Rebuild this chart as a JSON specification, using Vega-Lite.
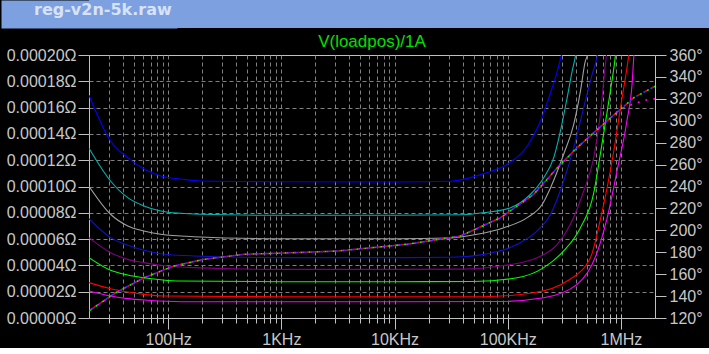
{
  "$schema": "https://vega.github.io/schema/vega-lite/v6.json",
  "background": "#000000",
  "padding": 0,
  "spacing": 4,
  "datasets": {
    "mag": [
      {"s":"step1","f":20,"v":0.0001694},{"s":"step1","f":31,"v":0.0001346},{"s":"step1","f":44,"v":0.0001219},{"s":"step1","f":61,"v":0.0001133},{"s":"step1","f":86,"v":0.000108},{"s":"step1","f":129,"v":0.0001057},{"s":"step1","f":194,"v":0.0001042},{"s":"step1","f":1000,"v":0.0001036},{"s":"step1","f":10000,"v":0.0001034},{"s":"step1","f":31000,"v":0.000104},{"s":"step1","f":61500,"v":0.0001098},{"s":"step1","f":99000,"v":0.0001169},{"s":"step1","f":149000,"v":0.0001308},{"s":"step1","f":195000,"v":0.0001498},{"s":"step1","f":239000,"v":0.0001713},{"s":"step1","f":274000,"v":0.0001878},{"s":"step1","f":297000,"v":0.0001993},{"s":"step1","f":330000,"v":0.00022},
      {"s":"step2","f":20,"v":0.0001291},{"s":"step2","f":31,"v":0.0001042},{"s":"step2","f":44,"v":0.0000915},{"s":"step2","f":61,"v":0.0000852},{"s":"step2","f":86,"v":0.0000814},{"s":"step2","f":129,"v":0.0000796},{"s":"step2","f":194,"v":0.0000789},{"s":"step2","f":1000,"v":0.0000781},{"s":"step2","f":10000,"v":0.0000781},{"s":"step2","f":40000,"v":0.0000785},{"s":"step2","f":61500,"v":0.0000801},{"s":"step2","f":106000,"v":0.0000839},{"s":"step2","f":159000,"v":0.0000941},{"s":"step2","f":208000,"v":0.0001067},{"s":"step2","f":255000,"v":0.0001219},{"s":"step2","f":292000,"v":0.0001422},{"s":"step2","f":335000,"v":0.0001675},{"s":"step2","f":371000,"v":0.0001878},{"s":"step2","f":397000,"v":0.0001993},{"s":"step2","f":430000,"v":0.00022},
      {"s":"step3","f":20,"v":0.0001002},{"s":"step3","f":31,"v":0.0000789},{"s":"step3","f":44,"v":0.00007},{"s":"step3","f":61,"v":0.0000662},{"s":"step3","f":86,"v":0.0000637},{"s":"step3","f":169,"v":0.0000618},{"s":"step3","f":1000,"v":0.0000603},{"s":"step3","f":10000,"v":0.0000603},{"s":"step3","f":30000,"v":0.0000608},{"s":"step3","f":53800,"v":0.0000637},{"s":"step3","f":92500,"v":0.0000687},{"s":"step3","f":150000,"v":0.0000765},{"s":"step3","f":202000,"v":0.0000865},{"s":"step3","f":239000,"v":0.0000991},{"s":"step3","f":312000,"v":0.0001245},{"s":"step3","f":383000,"v":0.0001473},{"s":"step3","f":439000,"v":0.0001726},{"s":"step3","f":485000,"v":0.0001954},{"s":"step3","f":503000,"v":0.0001993},{"s":"step3","f":540000,"v":0.00022},
      {"s":"step4","f":20,"v":0.0000755},{"s":"step4","f":31,"v":0.0000611},{"s":"step4","f":44,"v":0.0000553},{"s":"step4","f":61,"v":0.0000515},{"s":"step4","f":86,"v":0.0000489},{"s":"step4","f":169,"v":0.0000472},{"s":"step4","f":1000,"v":0.0000459},{"s":"step4","f":10000,"v":0.0000459},{"s":"step4","f":30000,"v":0.0000462},{"s":"step4","f":61500,"v":0.0000484},{"s":"step4","f":121000,"v":0.000056},{"s":"step4","f":182000,"v":0.0000662},{"s":"step4","f":239000,"v":0.0000789},{"s":"step4","f":312000,"v":0.0001042},{"s":"step4","f":383000,"v":0.0001295},{"s":"step4","f":469000,"v":0.0001599},{"s":"step4","f":557000,"v":0.0001853},{"s":"step4","f":617000,"v":0.0001993},{"s":"step4","f":660000,"v":0.00022},
      {"s":"step5","f":20,"v":0.0000611},{"s":"step5","f":31,"v":0.0000497},{"s":"step5","f":44,"v":0.0000446},{"s":"step5","f":61,"v":0.0000421},{"s":"step5","f":86,"v":0.0000401},{"s":"step5","f":169,"v":0.0000383},{"s":"step5","f":1000,"v":0.000037},{"s":"step5","f":10000,"v":0.000037},{"s":"step5","f":40000,"v":0.0000372},{"s":"step5","f":86300,"v":0.0000395},{"s":"step5","f":182000,"v":0.0000459},{"s":"step5","f":274000,"v":0.000056},{"s":"step5","f":358000,"v":0.0000713},{"s":"step5","f":469000,"v":0.0000966},{"s":"step5","f":575000,"v":0.0001219},{"s":"step5","f":659000,"v":0.0001549},{"s":"step5","f":729000,"v":0.0001929},{"s":"step5","f":744000,"v":0.0001993},{"s":"step5","f":790000,"v":0.00022},
      {"s":"step6","f":20,"v":0.0000459},{"s":"step6","f":31,"v":0.0000363},{"s":"step6","f":44,"v":0.0000327},{"s":"step6","f":61,"v":0.0000306},{"s":"step6","f":86,"v":0.0000291},{"s":"step6","f":125,"v":0.0000281},{"s":"step6","f":1000,"v":0.0000276},{"s":"step6","f":10000,"v":0.0000276},{"s":"step6","f":50000,"v":0.0000278},{"s":"step6","f":121000,"v":0.0000306},{"s":"step6","f":208000,"v":0.0000383},{"s":"step6","f":312000,"v":0.000051},{"s":"step6","f":439000,"v":0.0000687},{"s":"step6","f":575000,"v":0.000095},{"s":"step6","f":659000,"v":0.000125},{"s":"step6","f":750000,"v":0.000155},{"s":"step6","f":807000,"v":0.0001726},{"s":"step6","f":893000,"v":0.0001993},{"s":"step6","f":940000,"v":0.00022},
      {"s":"step7","f":20,"v":0.0000269},{"s":"step7","f":31,"v":0.0000223},{"s":"step7","f":44,"v":0.0000198},{"s":"step7","f":61,"v":0.000018},{"s":"step7","f":90,"v":0.0000167},{"s":"step7","f":1000,"v":0.0000162},{"s":"step7","f":10000,"v":0.0000162},{"s":"step7","f":60000,"v":0.0000162},{"s":"step7","f":170000,"v":0.0000192},{"s":"step7","f":335000,"v":0.0000281},{"s":"step7","f":538000,"v":0.0000459},{"s":"step7","f":659000,"v":0.000075},{"s":"step7","f":865000,"v":0.000127},{"s":"step7","f":1000000,"v":0.000162},{"s":"step7","f":1170000,"v":0.0001993},{"s":"step7","f":1250000,"v":0.00022},
      {"s":"step8","f":20,"v":0.0000205},{"s":"step8","f":31,"v":0.0000167},{"s":"step8","f":44,"v":0.0000147},{"s":"step8","f":66,"v":0.0000135},{"s":"step8","f":129,"v":0.0000124},{"s":"step8","f":1000,"v":0.0000124},{"s":"step8","f":10000,"v":0.0000124},{"s":"step8","f":80000,"v":0.0000125},{"s":"step8","f":208000,"v":0.0000154},{"s":"step8","f":410000,"v":0.0000256},{"s":"step8","f":617000,"v":0.00005},{"s":"step8","f":750000,"v":0.000075},{"s":"step8","f":925000,"v":0.000112},{"s":"step8","f":1130000,"v":0.00015},{"s":"step8","f":1260000,"v":0.00018},{"s":"step8","f":1300000,"v":0.0001993},{"s":"step8","f":1360000,"v":0.00022}
    ],
    "phase": [
      {"s":"step6","f":20,"d":126.5},{"s":"step6","f":34.5,"d":143.1},{"s":"step6","f":61.4,"d":156.8},{"s":"step6","f":113,"d":167.5},{"s":"step6","f":208,"d":173.6},{"s":"step6","f":469,"d":178.1},{"s":"step6","f":1280,"d":179.6},{"s":"step6","f":3130,"d":181.1},{"s":"step6","f":13000,"d":187.3},{"s":"step6","f":38300,"d":194.8},{"s":"step6","f":86300,"d":211.5},{"s":"step6","f":170000,"d":232.9},{"s":"step6","f":274000,"d":257.1},{"s":"step6","f":410000,"d":275.4},{"s":"step6","f":659000,"d":294.5},{"s":"step6","f":991000,"d":310.4},{"s":"step6","f":1300000,"d":321},{"s":"step6","f":2000000,"d":331.5},
      {"s":"step7","f":20,"d":126.5},{"s":"step7","f":34.5,"d":143.1},{"s":"step7","f":61.4,"d":156.8},{"s":"step7","f":113,"d":167.5},{"s":"step7","f":208,"d":173.6},{"s":"step7","f":469,"d":178.1},{"s":"step7","f":1280,"d":179.6},{"s":"step7","f":3130,"d":181.1},{"s":"step7","f":13000,"d":187.3},{"s":"step7","f":38300,"d":194.8},{"s":"step7","f":86300,"d":211.5},{"s":"step7","f":170000,"d":232.9},{"s":"step7","f":274000,"d":257.1},{"s":"step7","f":410000,"d":275.4},{"s":"step7","f":659000,"d":294.5},{"s":"step7","f":991000,"d":310.4},{"s":"step7","f":1300000,"d":321},{"s":"step7","f":2000000,"d":331.5},
      {"s":"step4","f":20,"d":126.5},{"s":"step4","f":34.5,"d":143.1},{"s":"step4","f":61.4,"d":156.8},{"s":"step4","f":113,"d":167.5},{"s":"step4","f":208,"d":173.6},{"s":"step4","f":469,"d":178.1},{"s":"step4","f":1280,"d":179.6},{"s":"step4","f":3130,"d":181.1},{"s":"step4","f":13000,"d":187.3},{"s":"step4","f":38300,"d":194.8},{"s":"step4","f":86300,"d":211.5},{"s":"step4","f":170000,"d":232.9},{"s":"step4","f":274000,"d":257.1},{"s":"step4","f":410000,"d":275.4},{"s":"step4","f":659000,"d":294.5},{"s":"step4","f":991000,"d":310.4},{"s":"step4","f":1300000,"d":321},{"s":"step4","f":2000000,"d":331.5},
      {"s":"step8","f":20,"d":126.5},{"s":"step8","f":34.5,"d":143.1},{"s":"step8","f":61.4,"d":156.8},{"s":"step8","f":113,"d":167.5},{"s":"step8","f":208,"d":173.6},{"s":"step8","f":469,"d":178.1},{"s":"step8","f":1280,"d":179.6},{"s":"step8","f":3130,"d":181.1},{"s":"step8","f":13000,"d":187.3},{"s":"step8","f":38300,"d":194.8},{"s":"step8","f":86300,"d":211.5},{"s":"step8","f":170000,"d":232.9},{"s":"step8","f":274000,"d":257.1},{"s":"step8","f":410000,"d":275.4},{"s":"step8","f":659000,"d":294.5},{"s":"step8","f":991000,"d":310.8},{"s":"step8","f":1300000,"d":315.5},{"s":"step8","f":1770000,"d":319.6},{"s":"step8","f":2000000,"d":320}
    ]
  },
  "vconcat": [
    {
      "width": 621,
      "height": 28,
      "view": {"fill": "#7DA0E0", "stroke": null},
      "title": {"text": "reg-v2n-5k.raw", "anchor": "start", "frame": "group", "orient": "top", "offset": -31, "dx": -55, "baseline": "alphabetic", "font": "DejaVu Sans", "fontSize": 16, "fontWeight": "bold", "color": "#D8E2F6"},
      "data": {"values": [{"t": ""}]},
      "mark": {"type": "text"},
      "encoding": {
        "text": {"field": "t"},
        "y": {"field": "t", "type": "nominal", "axis": {"title": null, "labels": false, "ticks": false, "grid": false, "domain": true, "domainColor": "#7DA0E0", "domainWidth": 176, "minExtent": 88, "maxExtent": 88}}
      }
    },
    {
      "width": 566,
      "height": 263,
      "view": {"fill": "#000000", "stroke": "#C0C0C0", "strokeWidth": 1},
      "title": {"text": "V(loadpos)/1A", "anchor": "middle", "frame": "group", "orient": "top", "offset": -17, "baseline": "alphabetic", "font": "Liberation Sans", "fontSize": 17, "fontWeight": "normal", "color": "#00E000"},
      "encoding": {
        "x": {
          "field": "f", "type": "quantitative",
          "scale": {"type": "log", "domain": [20, 2000000], "nice": false},
          "axis": {
            "title": null, "orient": "bottom", "domain": false, "offset": -4,
            "values": [30,40,50,60,70,80,90,100,200,300,400,500,600,700,800,900,1000,2000,3000,4000,5000,6000,7000,8000,9000,10000,20000,30000,40000,50000,60000,70000,80000,90000,100000,200000,300000,400000,500000,600000,700000,800000,900000,1000000],
            "tickSize": {"condition": {"test": "indexof([100,1000,10000,100000,1000000], datum.value) >= 0", "value": 15}, "value": 9},
            "labelExpr": "datum.value == 100 ? '100Hz' : datum.value == 1000 ? '1KHz' : datum.value == 10000 ? '10KHz' : datum.value == 100000 ? '100KHz' : datum.value == 1000000 ? '1MHz' : ''",
            "labelPadding": 2, "labelFlush": false, "labelOverlap": false,
            "grid": true, "gridDash": [4, 3],
            "minExtent": 33, "maxExtent": 33
          }
        }
      },
      "layer": [
        {
          "data": {"name": "mag"},
          "mark": {"type": "line", "clip": true, "strokeWidth": 1.1, "interpolate": "monotone"},
          "encoding": {
            "y": {
              "field": "v", "type": "quantitative",
              "scale": {"domain": [0, 0.0002], "nice": false, "zero": false},
              "axis": {
                "title": null, "orient": "left", "domain": false,
                "values": [0, 0.00002, 0.00004, 0.00006, 0.00008, 0.0001, 0.00012, 0.00014, 0.00016, 0.00018, 0.0002],
                "tickSize": 11, "labelPadding": 2,
                "labelExpr": "format(datum.value, '.5f') + 'Ω'",
                "grid": true, "gridDash": [4, 3],
                "gridOpacity": {"condition": {"test": "datum.value <= 0 || datum.value >= 0.0002", "value": 0}, "value": 1},
                "minExtent": 88, "maxExtent": 88
              }
            },
            "color": {
              "field": "s", "type": "nominal",
              "scale": {"domain": ["step1","step2","step3","step4","step5","step6","step7","step8"], "range": ["#0000FF","#00B4B4","#A0A0A0","#1010D0","#800080","#00FF00","#FF0000","#FF00FF"]},
              "legend": null
            }
          }
        },
        {
          "data": {"name": "phase"},
          "encoding": {
            "y": {
              "field": "d", "type": "quantitative",
              "scale": {"domain": [120, 360], "nice": false, "zero": false},
              "axis": {
                "title": null, "orient": "right", "domain": false,
                "values": [120,140,160,180,200,220,240,260,280,300,320,340,360],
                "tickSize": 11, "labelPadding": 3,
                "labelExpr": "datum.value + '°'",
                "grid": false,
                "minExtent": 55, "maxExtent": 55
              }
            }
          },
          "layer": [
            {"transform": [{"filter": "datum.s == 'step6'"}], "mark": {"type": "line", "clip": true, "color": "#00FF00", "strokeWidth": 1.6, "strokeDash": [2, 6], "strokeDashOffset": 0}},
            {"transform": [{"filter": "datum.s == 'step7'"}], "mark": {"type": "line", "clip": true, "color": "#FF0000", "strokeWidth": 1.6, "strokeDash": [2, 6], "strokeDashOffset": 2}},
            {"transform": [{"filter": "datum.s == 'step4'"}], "mark": {"type": "line", "clip": true, "color": "#3030FF", "strokeWidth": 1.6, "strokeDash": [2, 6], "strokeDashOffset": 4}},
            {"transform": [{"filter": "datum.s == 'step8'"}], "mark": {"type": "line", "clip": true, "color": "#FF00FF", "strokeWidth": 1.6, "strokeDash": [2, 6], "strokeDashOffset": 6}}
          ]
        }
      ],
      "resolve": {"scale": {"y": "independent"}}
    }
  ],
  "config": {
    "axis": {"labelFont": "Liberation Sans", "labelFontSize": 16, "labelColor": "#C8C8C8", "tickColor": "#C0C0C0", "gridColor": "#808080", "domainColor": "#C0C0C0", "tickWidth": 1, "gridWidth": 1}
  }
}
